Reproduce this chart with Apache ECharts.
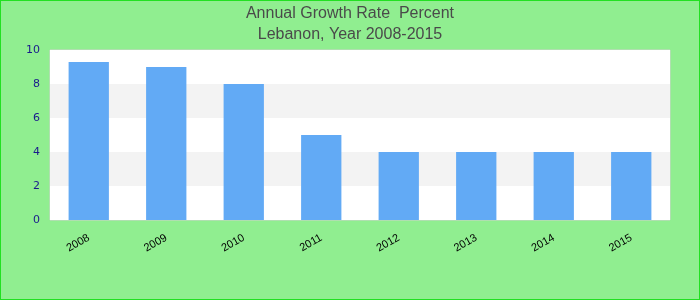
<!DOCTYPE html>
<html>
<head>
<meta charset="utf-8">
<script src="https://cdn.jsdelivr.net/npm/echarts@6/dist/echarts.min.js"></script>
<style>
  html, body { margin: 0; padding: 0; }
  #chart {
    width: 698px;
    height: 298px;
    border: 1px solid #22e022;
    background: #90ee90;
  }
</style>
</head>
<body>
<div id="chart"></div>
<script>
// annual growth rate, Lebanon
const years = ['2008', '2009', '2010', '2011', '2012', '2013', '2014', '2015']
const growthRate = [9.3, 9.0, 8.0, 5.0, 4.0, 4.0, 4.0, 4.0]
const yTicks = { min: 0, max: 10, interval: 2 }

const chart = echarts.init(document.getElementById('chart'))

chart.setOption({
  animation: false,
  title: {
    text: 'Annual Growth Rate  Percent\nLebanon, Year 2008-2015',
    left: 'center',
    top: -3,
    textStyle: {
      fontFamily: 'Liberation Sans',
      fontWeight: 'normal',
      fontSize: 16,
      lineHeight: 21,
      color: '#4a4a4a'
    }
  },
  grid: {
    left: 49,
    right: 29,
    top: 49,
    bottom: 79,
    show: true,
    backgroundColor: '#ffffff',
    borderColor: '#d0d0d0',
    borderWidth: 1
  },
  xAxis: {
    type: 'category',
    data: years,
    axisLine: { show: false },
    axisTick: { show: false },
    axisLabel: {
      rotate: 30,
      margin: 17,
      fontFamily: 'Liberation Sans',
      fontSize: 11,
      color: '#000'
    }
  },
  yAxis: {
    type: 'value',
    min: yTicks.min,
    max: yTicks.max,
    interval: yTicks.interval,
    axisLine: { show: false },
    axisTick: { show: false },
    splitLine: { show: false },
    splitArea: {
      show: true,
      areaStyle: { color: ['#ffffff', '#f3f3f3'] }
    },
    axisLabel: {
      margin: 10,
      fontFamily: 'DejaVu Sans',
      fontSize: 11,
      color: '#1a1a8c'
    }
  },
  series: [
    {
      type: 'bar',
      data: growthRate,
      barWidth: '52%',
      itemStyle: { color: '#62aaf5' }
    }
  ]
})
</script>
</body>
</html>
